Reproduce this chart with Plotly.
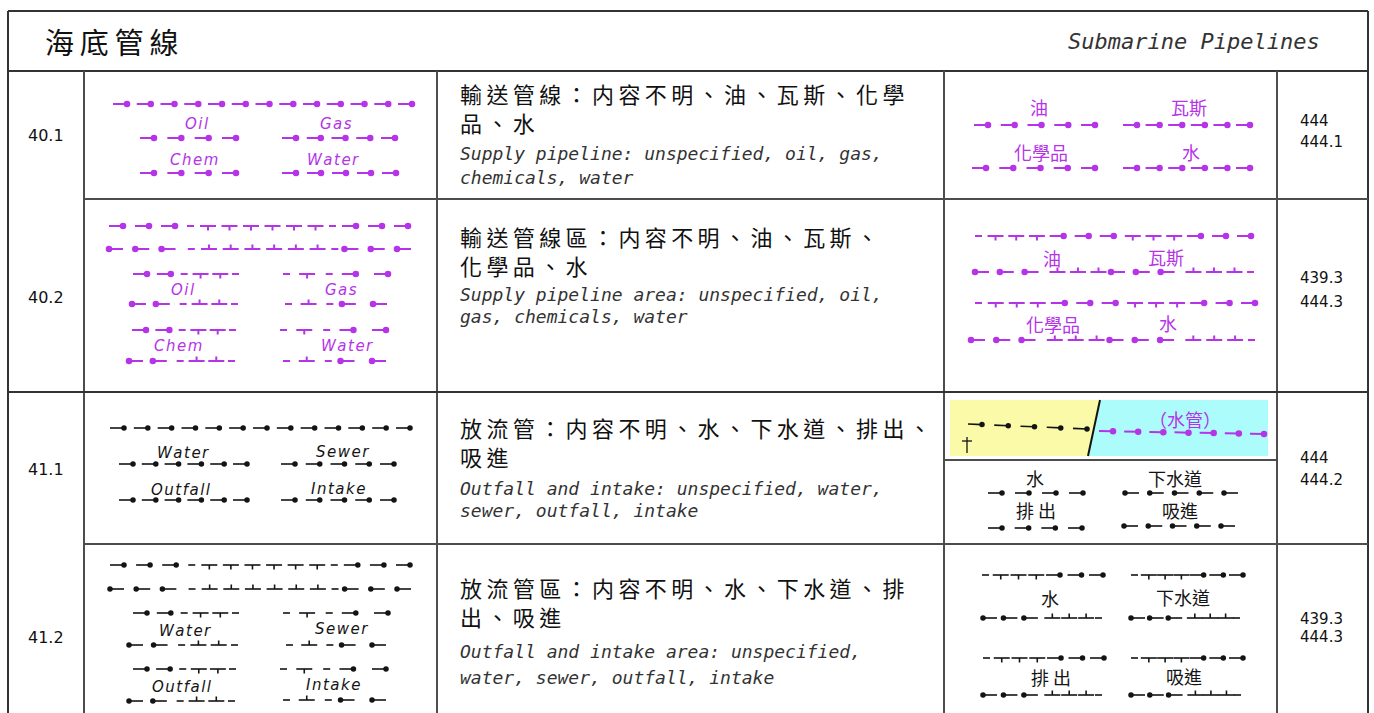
import plotly.graph_objects as go

# ---------------- data ----------------
title_zh = "海底管線"
title_en = "Submarine Pipelines"
codes = ["40.1", "40.2", "41.1", "41.2"]
desc_zh = [
    ["輸送管線：内容不明、油、瓦斯、化學", "品、水"],
    ["輸送管線區：内容不明、油、瓦斯、", "化學品、水"],
    ["放流管：内容不明、水、下水道、排出、", "吸進"],
    ["放流管區：内容不明、水、下水道、排", "出、吸進"],
]
desc_en = [
    ["Supply pipeline: unspecified, oil, gas,", "chemicals, water"],
    ["Supply pipeline area: unspecified, oil,", "gas, chemicals, water"],
    ["Outfall and intake: unspecified, water,", "sewer, outfall, intake"],
    ["Outfall and intake area: unspecified,", "water, sewer, outfall, intake"],
]
refs = [["444", "444.1"], ["439.3", "444.3"], ["444", "444.2"], ["439.3", "444.3"]]
supply_labels_en = ["Oil", "Gas", "Chem", "Water"]
outfall_labels_en = ["Water", "Sewer", "Outfall", "Intake"]
supply_labels_zh = ["油", "瓦斯", "化學品", "水"]
outfall_labels_zh = ["水", "下水道", "排出", "吸進"]
pipe_label_zh = "（水管）"

# symbol patterns: o = dash+dot(right), O = dot(left)+dash, T = tick down, L = tick up, - = short dash
P_FULL = "o" * 13
P_AREA_TOP = "ooo-TTTTTT-ooo"
P_AREA_BOT = "OOO-LLLLLL-OOO"
P_AREA_A_TOP, P_AREA_A_BOT = "oo-TT-", "OO-LL-"
P_AREA_B_TOP, P_AREA_B_BOT = "-T-oo", "-L-OO"
P_R_AREA_TOP, P_R_AREA_BOT = "-TTTooo" + "TTTooo", "OOOLLL" + "OOOLLL-"
P_R_SHORT_TOP, P_R_SHORT_BOT = "-TTTooo", "OOOLLL-"

# ---------------- styling ----------------
W, H = 1374, 713
PURPLE = "#b534e8"
BLACK = "#141414"
FRAME = "#4d4d4d"
CJK = "Noto Sans CJK TC"
MONO = "DejaVu Sans Mono"
SANS = "DejaVu Sans"
SLOT = {"o": 26, "O": 26, "T": 21.5, "L": 21.5, "-": 13}
LEN = {"o": 14, "O": 14, "T": 16, "L": 16, "-": 7}
TICK = 4.5

acc = {PURPLE: ([], [], [], []), BLACK: ([], [], [], [])}


def draw(pattern, x0, x1, y0, color, y1=None):
    if y1 is None:
        y1 = y0
    el = list(pattern)
    prev = sum(SLOT[e] for e in el[:-1])
    s = (x1 - x0 - LEN[el[-1]]) / prev if prev else 1

    def yat(x):
        return y0 + (y1 - y0) * (x - x0) / (x1 - x0)

    lx, ly, dx, dy = acc[color]
    pos = x0
    for e in el:
        a, b = pos, pos + LEN[e]
        lx += [a, b, None]
        ly += [yat(a), yat(b), None]
        if e == "o":
            dx.append(b); dy.append(yat(b))
        elif e == "O":
            dx.append(a); dy.append(yat(a))
        elif e in "TL":
            c = (a + b) / 2
            yc = yat(c)
            lx += [c, c, None]
            ly += [yc, yc + (TICK if e == "T" else -TICK), None]
        pos += SLOT[e] * s


# left symbol column
draw(P_FULL, 113, 412, 104, PURPLE)
draw("o" * 4, 140, 236, 138, PURPLE); draw("o" * 5, 282, 395, 138, PURPLE)
draw("o" * 4, 140, 236, 173, PURPLE); draw("o" * 5, 282, 396, 173, PURPLE)

draw(P_AREA_TOP, 109, 408, 226, PURPLE); draw(P_AREA_BOT, 109, 411, 249, PURPLE)
draw(P_AREA_A_TOP, 133, 239, 274, PURPLE); draw(P_AREA_A_BOT, 132, 238, 304, PURPLE)
draw(P_AREA_B_TOP, 283, 388, 274, PURPLE); draw(P_AREA_B_BOT, 285, 387, 304, PURPLE)
draw(P_AREA_A_TOP, 132, 236, 330, PURPLE); draw(P_AREA_A_BOT, 129, 235, 361, PURPLE)
draw(P_AREA_B_TOP, 280, 386, 330, PURPLE); draw(P_AREA_B_BOT, 283, 386, 361, PURPLE)

draw(P_FULL, 110, 410, 428, BLACK)
draw("o" * 6, 119, 247, 464, BLACK); draw("o" * 5, 281, 394, 464, BLACK)
draw("o" * 6, 119, 247, 500, BLACK); draw("o" * 5, 281, 394, 500, BLACK)

draw(P_AREA_TOP, 110, 410, 565, BLACK); draw(P_AREA_BOT, 110, 411, 589, BLACK)
draw(P_AREA_A_TOP, 133, 239, 613, BLACK); draw(P_AREA_A_BOT, 129, 238, 645, BLACK)
draw(P_AREA_B_TOP, 283, 388, 613, BLACK); draw(P_AREA_B_BOT, 286, 386, 645, BLACK)
draw(P_AREA_A_TOP, 133, 236, 669, BLACK); draw(P_AREA_A_BOT, 129, 235, 701, BLACK)
draw(P_AREA_B_TOP, 280, 386, 669, BLACK); draw(P_AREA_B_BOT, 283, 386, 700, BLACK)

# right symbol column
draw("o" * 5, 974, 1095, 125, PURPLE); draw("o" * 6, 1123, 1250, 125, PURPLE)
draw("o" * 5, 972, 1095, 168, PURPLE); draw("o" * 6, 1123, 1250, 168, PURPLE)

draw(P_R_AREA_TOP, 975, 1251, 236, PURPLE); draw(P_R_AREA_BOT, 975, 1254, 272, PURPLE)
draw(P_R_AREA_TOP, 975, 1255, 303, PURPLE); draw(P_R_AREA_BOT, 971, 1255, 340, PURPLE)

draw("o" * 5, 968, 1087, 424, BLACK, 429)
draw("o" * 7, 1099, 1264, 431, PURPLE, 434)
draw("o" * 4, 988, 1083, 493, BLACK); draw("O" * 5, 1125, 1238, 493, BLACK)
draw("o" * 4, 988, 1082, 528, BLACK); draw("O" * 5, 1124, 1235, 526, BLACK)

draw(P_R_SHORT_TOP, 982, 1103, 575, BLACK); draw(P_R_SHORT_BOT, 983, 1102, 618, BLACK)
draw(P_R_SHORT_TOP, 1131, 1243, 575, BLACK); draw(P_R_SHORT_BOT, 1131, 1240, 618, BLACK)
draw(P_R_SHORT_TOP, 983, 1104, 658, BLACK); draw(P_R_SHORT_BOT, 983, 1102, 695, BLACK)
draw(P_R_SHORT_TOP, 1131, 1243, 658, BLACK); draw(P_R_SHORT_BOT, 1131, 1241, 695, BLACK)

fig = go.Figure()

# coloured boxes (behind symbols)
shapes = [
    dict(type="path", path="M 950 400 L 1100 400 L 1088 456 L 950 456 Z",
         fillcolor="#fafaa8", line=dict(width=0), layer="below"),
    dict(type="path", path="M 1100 400 L 1268 400 L 1268 456 L 1088 456 Z",
         fillcolor="#acfcfc", line=dict(width=0), layer="below"),
    dict(type="line", x0=1100, y0=400, x1=1088, y1=456, line=dict(color=BLACK, width=2)),
    dict(type="line", x0=967, y0=437, x1=967, y1=453, line=dict(color=BLACK, width=1.3)),
    dict(type="line", x0=962, y0=441, x1=972, y1=441, line=dict(color=BLACK, width=1.3)),
]

# frame
frame = [
    (8, 11, 1368, 11, "#333333"), (8, 11, 8, 720, "#333333"), (1368, 11, 1368, 720, "#333333"),
    (8, 71, 1368, 71, "#333333"),
    (84, 71, 84, 720, FRAME), (437, 71, 437, 720, FRAME), (944, 71, 944, 720, FRAME),
    (1277, 71, 1277, 720, FRAME),
    (84, 199, 1368, 199, FRAME), (8, 392, 1368, 392, "#333333"), (84, 544, 1368, 544, FRAME),
    (944, 460, 1277, 460, FRAME),
]
for x0, y0, x1, y1, c in frame:
    shapes.append(dict(type="line", x0=x0, y0=y0, x1=x1, y1=y1, line=dict(color=c, width=2)))

for color, lw, ms in [(PURPLE, 2, 6.5), (BLACK, 1.6, 5.5)]:
    lx, ly, dx, dy = acc[color]
    fig.add_trace(go.Scatter(x=lx, y=ly, mode="lines", line=dict(color=color, width=lw),
                             hoverinfo="skip", showlegend=False))
    fig.add_trace(go.Scatter(x=dx, y=dy, mode="markers", marker=dict(color=color, size=ms),
                             hoverinfo="skip", showlegend=False))

ann = []


def txt(text, x, y, size, color="#111111", family=SANS, xanchor="center", italic=False, align="center"):
    t = f"<i>{text}</i>" if italic else text
    ann.append(dict(text=t, x=x, y=y, xref="x", yref="y", showarrow=False, xanchor=xanchor,
                    yanchor="middle", align=align, borderpad=0,
                    font=dict(size=size, color=color, family=family)))


def spaced(s, sep="\u2009"):
    return sep.join(s)


txt(spaced(title_zh), 44, 41, 29, "#111111", CJK, "left")
txt(title_en, 1321, 41, 22, "#333333", MONO, "right", italic=True)

code_y = [135, 297, 469, 637]
for c, y in zip(codes, code_y):
    txt(c, 46, y, 16, "#111111", SANS)

zh_y = [(96, 124), (239, 266), (430, 458), (589, 619)]
en_y = [(153, 177), (294, 316), (488, 510), (651, 677)]
for lines, ys in zip(desc_zh, zh_y):
    txt("<br>".join(spaced(l) for l in lines), 459, (ys[0] + ys[1]) / 2 - 2.5, 22,
        "#111111", CJK, "left", align="left")
for lines, ys in zip(desc_en, en_y):
    for l, y in zip(lines, ys):
        txt(l, 459, y, 18, "#333333", MONO, "left", italic=True)

ref_y = [(121, 142), (278, 302), (458, 480), (619, 637)]
for r, ys in zip(refs, ref_y):
    for l, y in zip(r, ys):
        txt(l, 1299, y, 15, "#111111", SANS, "left")

# symbol labels
HS = "\u200a"
for lab, (x, y) in zip(supply_labels_en, [(197, 124), (336, 124), (194, 160), (333, 160)]):
    txt(spaced(lab, HS), x, y, 15, PURPLE, SANS, italic=True)
for lab, (x, y) in zip(supply_labels_en, [(183, 290), (341, 290), (178, 346), (347, 346)]):
    txt(spaced(lab, HS), x, y, 15, PURPLE, SANS, italic=True)
for lab, (x, y) in zip(outfall_labels_en, [(183, 453), (342, 452), (181, 490), (338, 489)]):
    txt(spaced(lab, HS), x, y, 15, BLACK, SANS, italic=True)
for lab, (x, y) in zip(outfall_labels_en, [(185, 631), (341, 629), (182, 687), (333, 685)]):
    txt(spaced(lab, HS), x, y, 15, BLACK, SANS, italic=True)

for lab, (x, y) in zip(supply_labels_zh, [(1039, 107), (1189, 107), (1041, 152), (1191, 152)]):
    txt(lab, x, y, 18, PURPLE, CJK)
for lab, (x, y) in zip(supply_labels_zh, [(1052, 258), (1166, 257), (1053, 324), (1168, 323)]):
    txt(lab, x, y, 18, PURPLE, CJK)
txt(pipe_label_zh, 1185, 419, 18, PURPLE, CJK)
for lab, (x, y) in zip(outfall_labels_zh, [(1035, 478), (1175, 478), (1036, 510), (1180, 510)]):
    txt(lab if lab != "排出" else "排 出", x, y, 18, BLACK, CJK)
for lab, (x, y) in zip(outfall_labels_zh, [(1050, 598), (1183, 597), (1051, 677), (1184, 676)]):
    txt(lab if lab != "排出" else "排 出", x, y, 18, BLACK, CJK)

fig.update_layout(
    width=W, height=H, margin=dict(l=0, r=0, t=0, b=0),
    paper_bgcolor="white", plot_bgcolor="white",
    xaxis=dict(range=[0, W], visible=False, fixedrange=True),
    yaxis=dict(range=[H, 0], visible=False, fixedrange=True),
    shapes=shapes, annotations=ann, showlegend=False,
)
fig.write_html("out.html", config={"displayModeBar": False, "staticPlot": True},
               post_script="document.body.style.margin='0';document.body.style.overflow='hidden';")
